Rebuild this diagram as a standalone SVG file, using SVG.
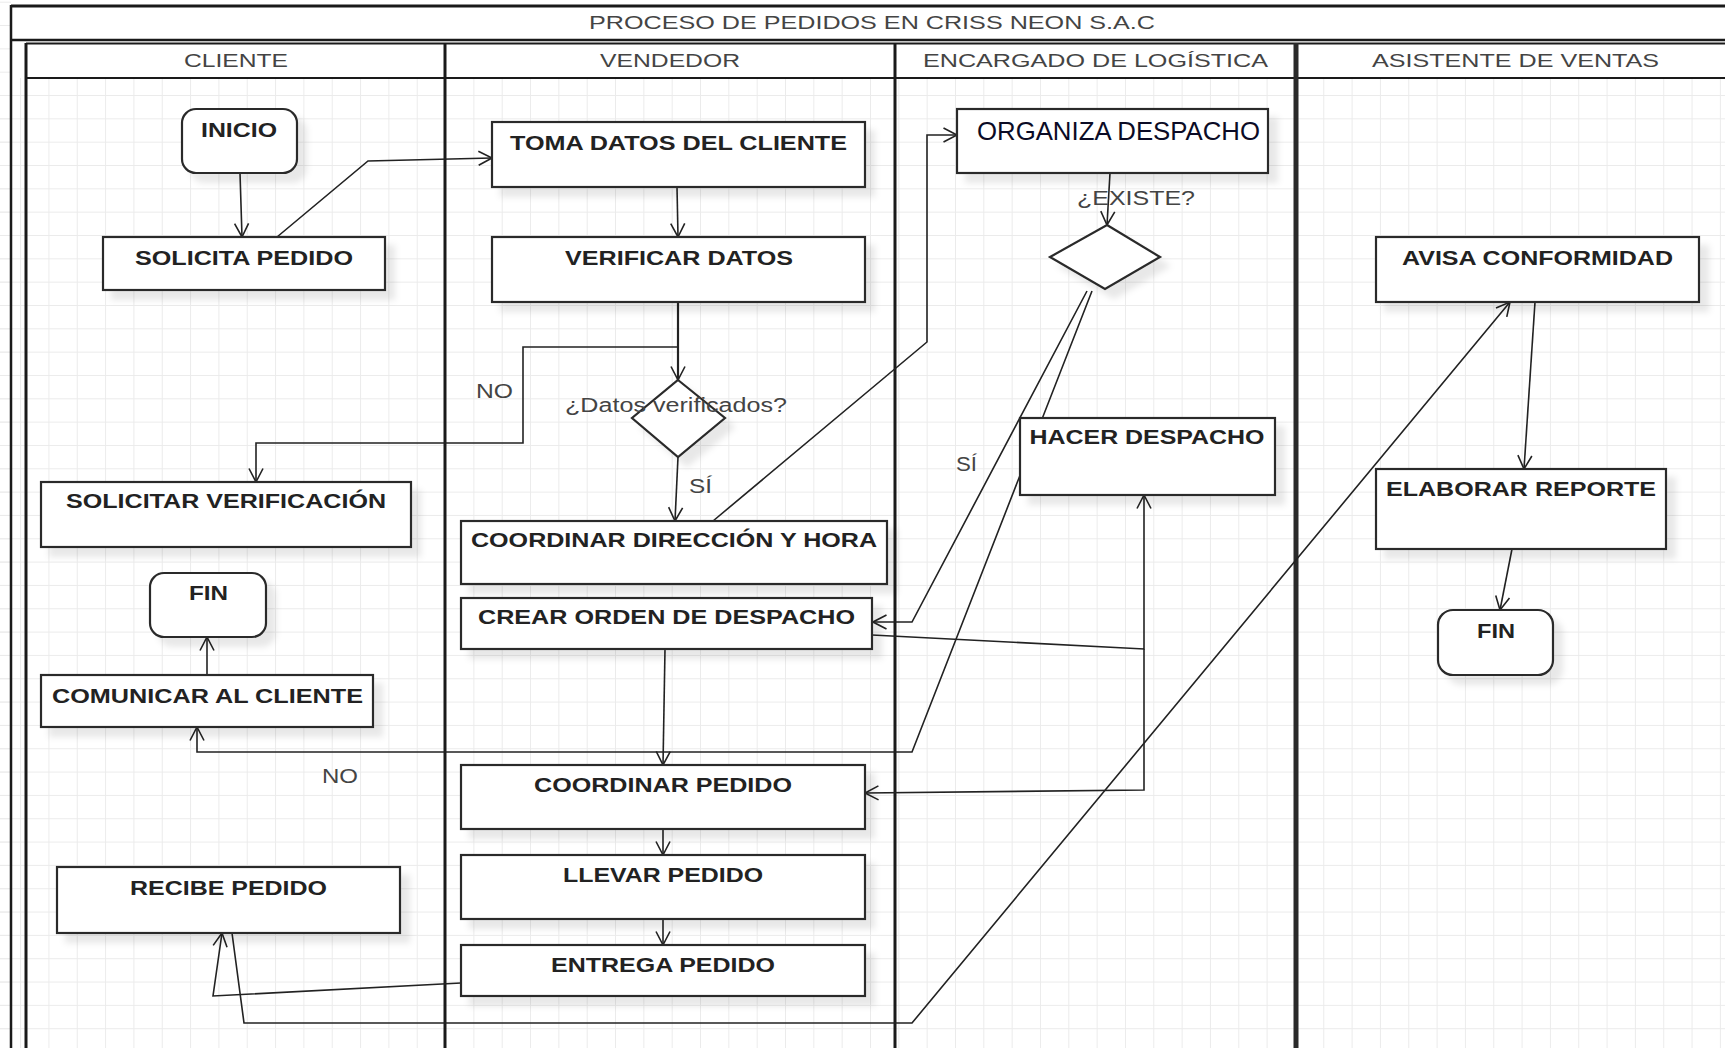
<svg xmlns="http://www.w3.org/2000/svg" width="1725" height="1048" viewBox="0 0 1725 1048">
<defs>
  <pattern id="grid" x="20.1" y="1.7" width="28.33" height="23.33" patternUnits="userSpaceOnUse">
    <rect x="0" y="0" width="1" height="23.33" fill="#ebebeb"/>
    <rect x="0" y="0" width="28.33" height="1" fill="#ebebeb"/>
  </pattern>
  <marker id="arr" viewBox="0 0 16 16" refX="14.5" refY="8" markerWidth="16" markerHeight="16" orient="auto" markerUnits="userSpaceOnUse">
    <path d="M1 1 L14.5 8 L1 15" fill="none" stroke="#222" stroke-width="1.6"/>
  </marker>
  <filter id="sh" x="-10%" y="-20%" width="130%" height="160%">
    <feDropShadow dx="9" dy="9" stdDeviation="3" flood-color="#000" flood-opacity="0.09"/>
  </filter>
</defs>
<style>
  .node { fill: #fff; stroke: #2a2a2a; stroke-width: 2.2; filter: url(#sh); }
  .lbl { font-family: "Liberation Sans", Arial, sans-serif; font-weight: bold; font-size: 20px; fill: #222; text-anchor: middle; }
  .org { font-family: "Liberation Sans", Arial, sans-serif; font-size: 25px; fill: #0b0b25; text-anchor: middle; }
  .hdr { font-family: "Liberation Sans", Arial, sans-serif; font-size: 19px; fill: #444; text-anchor: middle; }
  .cond { font-family: "Liberation Sans", Arial, sans-serif; font-size: 20px; fill: #444; text-anchor: middle; }
  .frame { stroke: #1a1a1a; fill: none; }
  .conn path { fill: none; stroke: #222; stroke-width: 1.6; }
  .conn path.a { marker-end: url(#arr); }
</style>

<rect x="0" y="0" width="1725" height="1048" fill="#fff"/>
<rect x="0" y="78" width="1725" height="970" fill="url(#grid)"/>
<rect x="0" y="0" width="11" height="1048" fill="url(#grid)"/>

<g id="frame">
  <rect x="11" y="6" width="1714" height="34" fill="#fff"/>
  <rect x="26" y="43" width="1699" height="35" fill="#fff"/>
  <line class="frame" x1="11" y1="6" x2="1725" y2="6" stroke-width="3"/>
  <line class="frame" x1="11" y1="40" x2="1725" y2="40" stroke-width="2.5"/>
  <line class="frame" x1="26" y1="43.5" x2="1725" y2="43.5" stroke-width="2"/>
  <line class="frame" x1="26" y1="78" x2="1725" y2="78" stroke-width="2.2"/>
  <line class="frame" x1="11" y1="5" x2="11" y2="1048" stroke-width="2.5"/>
  <line class="frame" x1="26" y1="43" x2="26" y2="1048" stroke-width="3"/>
  <line class="frame" x1="445" y1="43" x2="445" y2="1048" stroke-width="3"/>
  <line class="frame" x1="895" y1="43" x2="895" y2="1048" stroke-width="3"/>
  <line x1="1296" y1="43" x2="1296" y2="1048" stroke="#2a2a2a" stroke-width="5"/>
  <text class="hdr" x="872" y="29" textLength="566" lengthAdjust="spacingAndGlyphs" fill="#555">PROCESO DE PEDIDOS EN CRISS NEON S.A.C</text>
  <text class="hdr" x="236" y="67" textLength="104" lengthAdjust="spacingAndGlyphs">CLIENTE</text>
  <text class="hdr" x="670" y="67" textLength="140" lengthAdjust="spacingAndGlyphs">VENDEDOR</text>
  <text class="hdr" x="1095.5" y="67" textLength="345" lengthAdjust="spacingAndGlyphs">ENCARGADO DE LOGÍSTICA</text>
  <text class="hdr" x="1515.5" y="67" textLength="287" lengthAdjust="spacingAndGlyphs">ASISTENTE DE VENTAS</text>
</g>

<g id="connectors" class="conn">
  <path class="a" d="M240,173 L242,237"/>
  <path class="a" d="M277,237 L368,161 L492,158"/>
  <path class="a" d="M677,187 L678,237"/>
  <path class="a" d="M678,302 L678,380" style="stroke-width:2.2"/>
  <path class="a" d="M678,347 L523,347 L523,443 L256,443 L256,482"/>
  <path class="a" d="M678,457 L675,521"/>
  <path class="a" d="M713,521 L927,342 L927,135 L957,135"/>
  <path class="a" d="M1110,173 L1107,225"/>
  <path class="a" d="M1087,291 L912,622 L873,622"/>
  <path class="a" d="M1092,291 L912,752 L197,752 L197,727"/>
  <path class="a" d="M872,635 L1144,649 L1144,495"/>
  <path class="a" d="M1144,649 L1144,790 L865,793"/>
  <path class="a" d="M665,649 L663,765"/>
  <path class="a" d="M663,829 L663,855"/>
  <path class="a" d="M663,919 L663,945"/>
  <path class="a" d="M461,983 L213,996 L222,933"/>
  <path class="a" d="M232,933 L244,1023 L912,1023 L1510,302"/>
  <path class="a" d="M1535,302 L1524,469"/>
  <path class="a" d="M1512,549 L1500,610"/>
  <path class="a" d="M207,675 L207,637"/>
  <text class="cond" x="494.5" y="398" textLength="37" lengthAdjust="spacingAndGlyphs">NO</text>
  <text class="cond" x="700.5" y="493" textLength="23" lengthAdjust="spacingAndGlyphs">SÍ</text>
  <text class="cond" x="966.5" y="471" textLength="21" lengthAdjust="spacingAndGlyphs">SÍ</text>
  <text class="cond" x="340" y="783" textLength="36" lengthAdjust="spacingAndGlyphs">NO</text>
</g>

<g id="inicio"><rect class="node" x="182" y="109" width="115" height="64" rx="14"/><text class="lbl" x="239" y="137" textLength="76" lengthAdjust="spacingAndGlyphs">INICIO</text></g>
<g id="solicita-pedido"><rect class="node" x="103" y="237" width="282" height="53"/><text class="lbl" x="244" y="265" textLength="218" lengthAdjust="spacingAndGlyphs">SOLICITA PEDIDO</text></g>
<g id="solicitar-verificacion"><rect class="node" x="41" y="482" width="370" height="65"/><text class="lbl" x="226" y="508" textLength="320" lengthAdjust="spacingAndGlyphs">SOLICITAR VERIFICACIÓN</text></g>
<g id="fin-cliente"><rect class="node" x="150" y="573" width="116" height="64" rx="14"/><text class="lbl" x="208.5" y="600" textLength="39" lengthAdjust="spacingAndGlyphs">FIN</text></g>
<g id="comunicar-cliente"><rect class="node" x="41" y="675" width="332" height="52"/><text class="lbl" x="207.5" y="703" textLength="311" lengthAdjust="spacingAndGlyphs">COMUNICAR AL CLIENTE</text></g>
<g id="recibe-pedido"><rect class="node" x="57" y="867" width="343" height="66"/><text class="lbl" x="228.5" y="895" textLength="197" lengthAdjust="spacingAndGlyphs">RECIBE PEDIDO</text></g>

<g id="toma-datos"><rect class="node" x="492" y="122" width="373" height="65"/><text class="lbl" x="678.5" y="150" textLength="337" lengthAdjust="spacingAndGlyphs">TOMA DATOS DEL CLIENTE</text></g>
<g id="verificar-datos"><rect class="node" x="492" y="237" width="373" height="65"/><text class="lbl" x="679" y="265" textLength="228" lengthAdjust="spacingAndGlyphs">VERIFICAR DATOS</text></g>
<g id="decision-datos"><polygon class="node" points="678,380 725,418 678,457 632,418"/><text class="cond" x="676" y="412" textLength="222" lengthAdjust="spacingAndGlyphs">¿Datos verificados?</text></g>
<g id="coordinar-direccion"><rect class="node" x="461" y="521" width="426" height="63"/><text class="lbl" x="674" y="547" textLength="406" lengthAdjust="spacingAndGlyphs">COORDINAR DIRECCIÓN Y HORA</text></g>
<g id="crear-orden"><rect class="node" x="461" y="598" width="411" height="51"/><text class="lbl" x="666.5" y="624" textLength="377" lengthAdjust="spacingAndGlyphs">CREAR ORDEN DE DESPACHO</text></g>
<g id="coordinar-pedido"><rect class="node" x="461" y="765" width="404" height="64"/><text class="lbl" x="663" y="792" textLength="258" lengthAdjust="spacingAndGlyphs">COORDINAR PEDIDO</text></g>
<g id="llevar-pedido"><rect class="node" x="461" y="855" width="404" height="64"/><text class="lbl" x="663" y="882" textLength="200" lengthAdjust="spacingAndGlyphs">LLEVAR PEDIDO</text></g>
<g id="entrega-pedido"><rect class="node" x="461" y="945" width="404" height="51"/><text class="lbl" x="663" y="972" textLength="224" lengthAdjust="spacingAndGlyphs">ENTREGA PEDIDO</text></g>

<g id="organiza-despacho"><rect class="node" x="957" y="109" width="311" height="64"/><text class="org" x="1118.5" y="140" textLength="283" lengthAdjust="spacingAndGlyphs">ORGANIZA DESPACHO</text></g>
<g id="decision-existe"><polygon class="node" points="1107,225 1160,257 1105,289 1050,257"/><text class="cond" x="1136" y="205" textLength="118" lengthAdjust="spacingAndGlyphs">¿EXISTE?</text></g>
<g id="hacer-despacho"><rect class="node" x="1020" y="418" width="255" height="77"/><text class="lbl" x="1147" y="444" textLength="235" lengthAdjust="spacingAndGlyphs">HACER DESPACHO</text></g>

<g id="avisa-conformidad"><rect class="node" x="1376" y="237" width="323" height="65"/><text class="lbl" x="1537.5" y="265" textLength="271" lengthAdjust="spacingAndGlyphs">AVISA CONFORMIDAD</text></g>
<g id="elaborar-reporte"><rect class="node" x="1376" y="469" width="290" height="80"/><text class="lbl" x="1521" y="496" textLength="270" lengthAdjust="spacingAndGlyphs">ELABORAR REPORTE</text></g>
<g id="fin-asistente"><rect class="node" x="1438" y="610" width="115" height="65" rx="15"/><text class="lbl" x="1496" y="638" textLength="38" lengthAdjust="spacingAndGlyphs">FIN</text></g>
</svg>
